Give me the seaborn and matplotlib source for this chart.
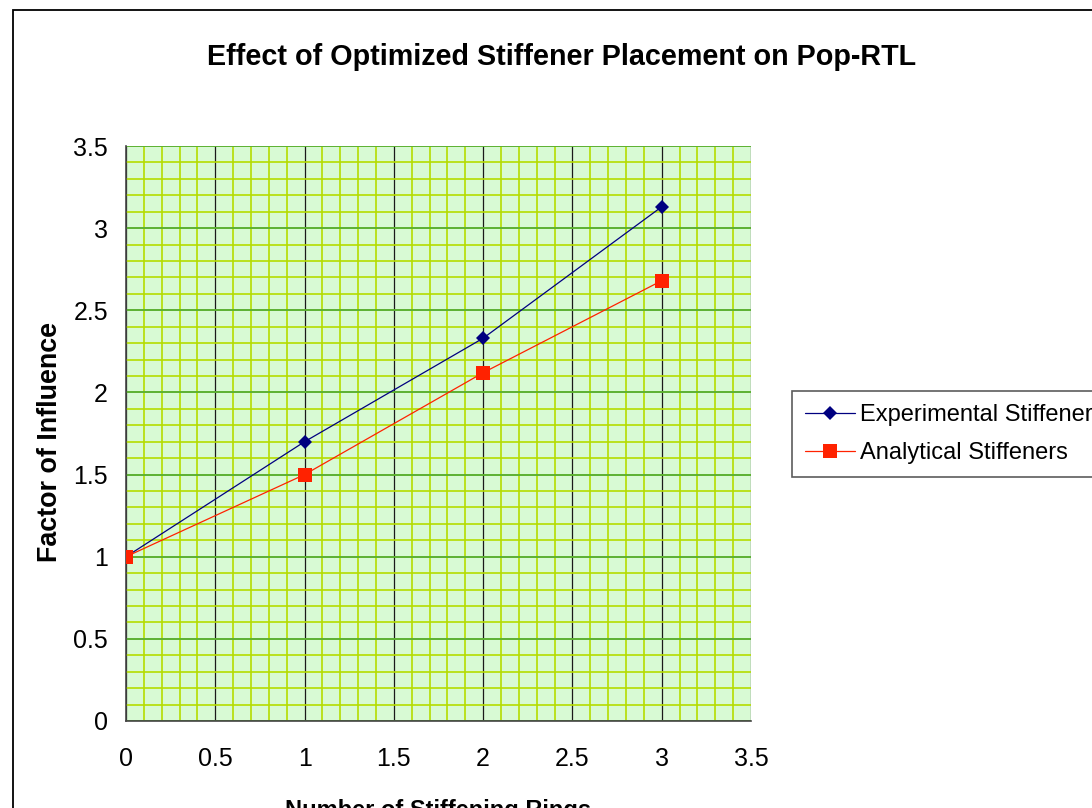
import matplotlib
matplotlib.use("Agg")
import matplotlib.pyplot as plt
import seaborn as sns
import pandas as pd
import numpy as np
from matplotlib.patches import Rectangle
from matplotlib.ticker import MultipleLocator

rings = [0, 1, 2, 3]
experimental = [1.00, 1.70, 2.33, 3.13]
analytical = [1.00, 1.50, 2.12, 2.68]
series_names = ["Experimental Stiffeners", "Analytical Stiffeners"]
x_ticks = [0, 0.5, 1, 1.5, 2, 2.5, 3, 3.5]
y_ticks = [0, 0.5, 1, 1.5, 2, 2.5, 3, 3.5]

df = pd.DataFrame({
    "rings": rings * 2,
    "value": experimental + analytical,
    "series": [series_names[0]] * len(rings) + [series_names[1]] * len(rings),
})

sns.set_theme(style="white")
plt.rcParams['font.family'] = ['Liberation Sans', 'DejaVu Sans']
plt.rcParams['text.color'] = 'black'
plt.rcParams['axes.labelcolor'] = 'black'

W, H = 1092, 808
fig = plt.figure(figsize=(W / 100, H / 100), dpi=100)
ax = fig.add_axes([126 / W, 1 - 721 / H, (751 - 126) / W, (721 - 146) / H])
ax.set_facecolor("#d8fad4")

# outer chart border (cropped on right/bottom)
fig.patches.append(Rectangle((13 / W, -0.1), 1.2, 1 - 10 / H + 0.1,
                             transform=fig.transFigure, fill=False,
                             edgecolor="black", linewidth=1.3, zorder=0))

sns.lineplot(data=df, x="rings", y="value", hue="series", style="series",
             palette={series_names[0]: "#000080", series_names[1]: "#ff2200"},
             markers={series_names[0]: "D", series_names[1]: "s"},
             dashes=False, linewidth=0.9, markersize=9, markeredgewidth=0,
             ax=ax, legend=False, zorder=5)
for ln in ax.lines:
    if ln.get_marker() == "s":
        ln.set_markersize(10.5)
    else:
        ln.set_markersize(7.5)

ax.set_xlim(0, 3.5)
ax.set_ylim(0, 3.5)
ax.xaxis.set_minor_locator(MultipleLocator(0.1))
ax.yaxis.set_minor_locator(MultipleLocator(0.1))
ax.set_xticks(x_ticks)
ax.set_yticks(y_ticks)
ax.set_xticklabels([f"{t:g}" for t in x_ticks])
ax.set_yticklabels([f"{t:g}" for t in y_ticks])

ax.grid(which="minor", axis="both", color="#b4dc00", linewidth=1.2, zorder=1)
ax.grid(which="major", axis="y", color="#5cb032", linewidth=1.4, zorder=2)
ax.grid(which="major", axis="x", color="#1a1a1a", linewidth=0.9, zorder=2)
ax.set_axisbelow(True)

for s in ["top", "right"]:
    ax.spines[s].set_visible(False)
for s in ["left", "bottom"]:
    ax.spines[s].set_visible(True)
    ax.spines[s].set_color("#444444")
    ax.spines[s].set_linewidth(1.2)

ax.tick_params(axis="both", which="major", direction="out", length=7,
               width=1, color="#444444", labelsize=18, labelcolor="black")
ax.tick_params(axis="x", which="major", pad=12)
ax.tick_params(axis="y", which="major", pad=6)
ax.tick_params(which="minor", length=0)

ax.set_xlabel("Number of Stiffening Rings", fontsize=17, fontweight="bold",
              labelpad=20, color="black")
ax.set_ylabel("Factor of Influence", fontsize=19.4, fontweight="bold", color="black")
ax.yaxis.set_label_coords(-0.1008, 0.485)

fig.text(562 / W, 1 - 57 / H, "Effect of Optimized Stiffener Placement on Pop-RTL",
         ha="center", va="center", fontsize=20.7, fontweight="bold", color="black")

handles = [
    plt.Line2D([], [], color="#000080", marker="D", markersize=7.5, linewidth=0.9, markeredgewidth=0),
    plt.Line2D([], [], color="#ff2200", marker="s", markersize=10, linewidth=0.9, markeredgewidth=0),
]
leg = fig.legend(handles, series_names, loc="upper left",
                 bbox_to_anchor=(792 / W, 1 - 391 / H), bbox_transform=fig.transFigure,
                 frameon=True, fancybox=False, fontsize=17, handlelength=2.1,
                 handletextpad=0.25, borderpad=0.55, labelspacing=0.68,
                 borderaxespad=0)
leg.get_frame().set_edgecolor("#333333")
leg.get_frame().set_linewidth(1.2)
for t in leg.get_texts():
    t.set_color("black")

fig.savefig("out.png", dpi=100)
